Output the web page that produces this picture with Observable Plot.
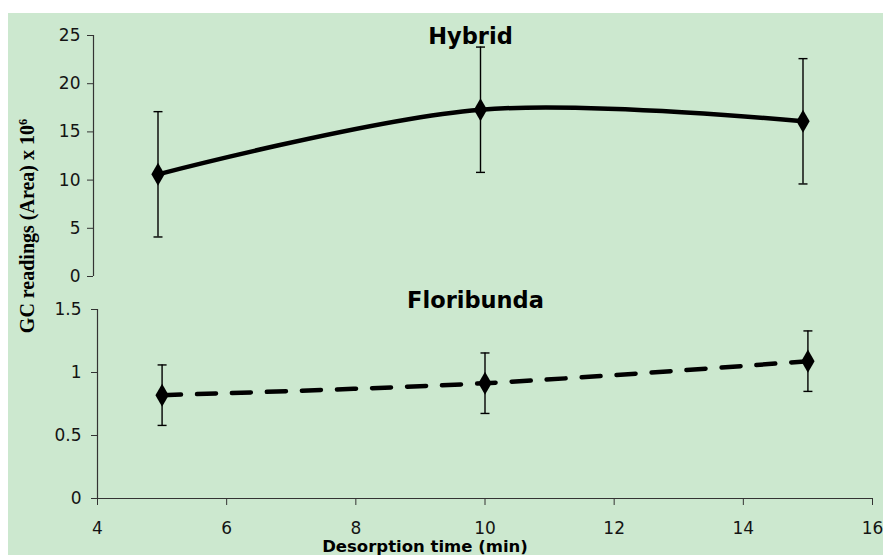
<!DOCTYPE html>
<html><head><meta charset="utf-8">
<script src="https://cdn.jsdelivr.net/npm/d3@7"></script>
<script src="https://cdn.jsdelivr.net/npm/@observablehq/plot@0.6"></script>
<style>
html,body{margin:0;padding:0;background:#fff;}
#wrap{position:relative;width:883px;height:555px;overflow:hidden;background:#fff;}
#bg{position:absolute;left:8px;top:13px;width:875px;height:542px;background:#cce8cf;}
#topPanel,#botPanel{position:absolute;left:0;}
#topPanel{top:0}
#botPanel{top:290px}
#ylab{position:absolute;left:27px;top:226px;transform:translate(-50%,-50%) rotate(-90deg);font:bold 20px "Liberation Serif";white-space:nowrap;color:#000;}
#ylab sup{font-size:0.62em;vertical-align:0.55em;line-height:0;}
</style></head><body>
<div id="wrap"><div id="bg"></div><div id="topPanel"></div><div id="botPanel"></div><div id="ylab">GC readings (Area) x 10<sup>6</sup></div></div>
<script>
const times = [5, 10, 15];
const hybridMean = [10.6, 17.3, 16.1];
const hybridErr = [6.5, 6.5, 6.5];
const floriMean = [0.82, 0.915, 1.09];
const floriErr = [0.24, 0.24, 0.24];
const xTicks = [4, 6, 8, 10, 12, 14, 16];
const hybridTicks = [0, 5, 10, 15, 20, 25];
const floriTicks = [0, 0.5, 1, 1.5];
const floriTickLabels = ["0", "0.5", "1", "1.5"];
const panelTitles = ["Hybrid", "Floribunda"];
const xLabel = "Desorption time (min)";

const hyb = times.map((t, i) => ({t, m: hybridMean[i], e: hybridErr[i]}));
const flo = times.map((t, i) => ({t, m: floriMean[i], e: floriErr[i]}));

const cap = {draw(ctx, size) { const w = 4.5; ctx.moveTo(-w, 0); ctx.lineTo(w, 0); }};
const ink = "#141414";
const font = "DejaVu Sans";

function errMarks(data) {
  return [
    Plot.ruleX(data, {x: "t", y1: d => d.m - d.e, y2: d => d.m + d.e, stroke: "black", strokeWidth: 1.4}),
    Plot.dot(data, {x: "t", y: d => d.m + d.e, symbol: cap, r: 5, stroke: "black", fill: "none", strokeWidth: 1.4}),
    Plot.dot(data, {x: "t", y: d => d.m - d.e, symbol: cap, r: 5, stroke: "black", fill: "none", strokeWidth: 1.4})
  ];
}

const topChart = Plot.plot({
  width: 883, height: 290,
  marginLeft: 93, marginRight: 16, marginTop: 35, marginBottom: 14,
  style: {background: "transparent", fontFamily: font, fontSize: "17px", color: ink, overflow: "visible"},
  x: {domain: [4, 16], axis: null},
  y: {domain: [0, 25], axis: null},
  marks: [
    Plot.axisY({ticks: hybridTicks, tickSize: 6, tickPadding: 7, stroke: "#333", label: null, fontSize: 17}),
    Plot.ruleX([4], {stroke: "#333", strokeWidth: 1.2}),
    ...errMarks(hyb),
    Plot.line(hyb, {x: "t", y: "m", curve: "catmull-rom", stroke: "black", strokeWidth: 4.5}),
    Plot.dot(hyb, {x: "t", y: "m", symbol: "diamond", r: 7, fill: "black"}),
    Plot.text([panelTitles[0]], {frameAnchor: "top", lineAnchor: "bottom", dy: 8, dx: -10, fontSize: 22.5, fontWeight: "bold", fill: "black"})
  ]
});
document.getElementById("topPanel").append(topChart);

const botChart = Plot.plot({
  width: 883, height: 265,
  marginLeft: 97, marginRight: 11, marginTop: 19, marginBottom: 57,
  style: {background: "transparent", fontFamily: font, fontSize: "17px", color: ink, overflow: "visible"},
  x: {domain: [4, 16], axis: null},
  y: {domain: [0, 1.5], axis: null},
  marks: [
    Plot.axisY({ticks: floriTicks, tickFormat: d => floriTickLabels[floriTicks.indexOf(d)], tickSize: 6, tickPadding: 10, stroke: "#333", label: null, fontSize: 17}),
    Plot.axisX({ticks: xTicks, tickSize: 7, tickPadding: 16, stroke: "#333", label: null, fontSize: 17}),
    Plot.ruleX([4], {stroke: "#333", strokeWidth: 1.2}),
    Plot.ruleY([0], {stroke: "#333", strokeWidth: 1.2}),
    ...errMarks(flo),
    Plot.line(flo, {x: "t", y: "m", curve: "catmull-rom", stroke: "black", strokeWidth: 4.5, strokeDasharray: "19,16"}),
    Plot.dot(flo, {x: "t", y: "m", symbol: "diamond", r: 7, fill: "black"}),
    Plot.text([panelTitles[1]], {frameAnchor: "top", lineAnchor: "bottom", dy: -2, dx: -9.5, fontSize: 22.5, fontWeight: "bold", fill: "black"}),
    Plot.text([xLabel], {frameAnchor: "bottom", lineAnchor: "bottom", dy: 53, dx: -60, fontSize: 16.5, fontWeight: "bold", fill: "black"})
  ]
});
document.getElementById("botPanel").append(botChart);
</script>
</body></html>
